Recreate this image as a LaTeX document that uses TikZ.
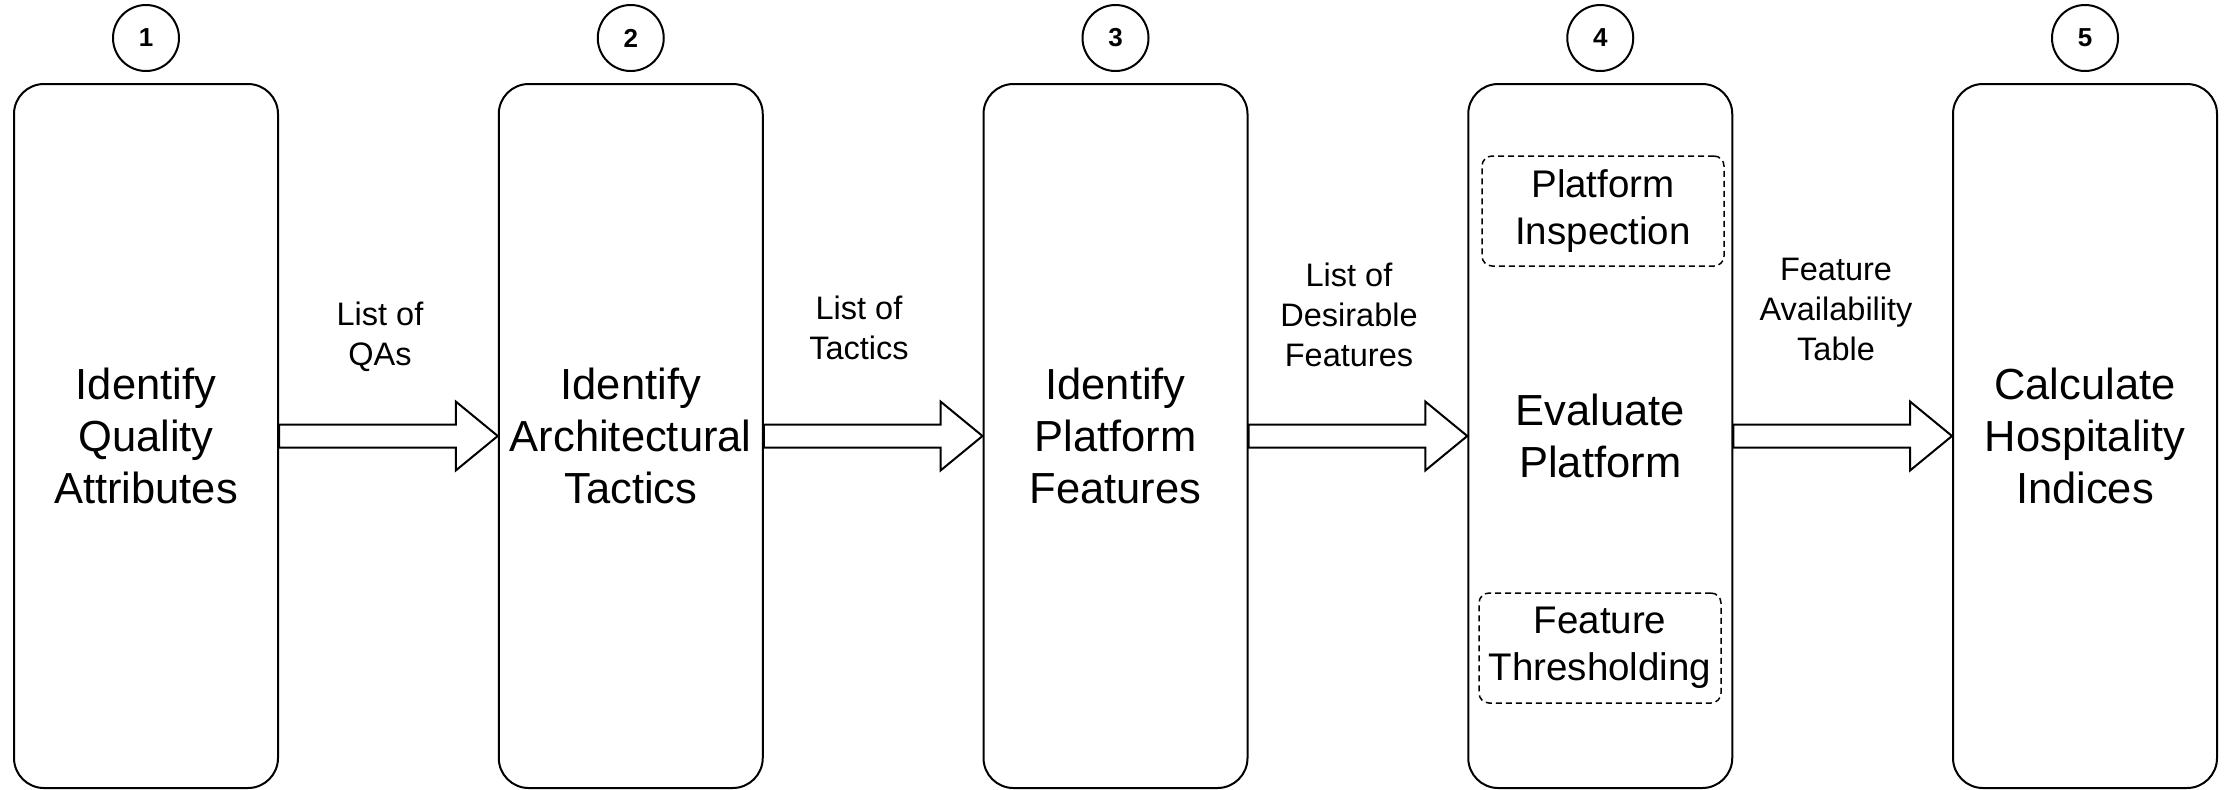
\documentclass[tikz,border=0pt]{standalone}
\usepackage{fontspec}
\setmainfont{Liberation Sans}
\usetikzlibrary{calc,positioning}
\def\blockarrow(#1)(#2){\draw[line width=1pt, fill=white] let \p1=(#1.east), \p2=(#2.west) in (\x1,\y1+5.75pt) -- (\x2-21pt,\y1+5.75pt) -- (\x2-21pt,\y1+17.25pt) -- (\x2,\y1) -- (\x2-21pt,\y1-17.25pt) -- (\x2-21pt,\y1-5.75pt) -- (\x1,\y1-5.75pt) -- cycle;}
\tikzset{
	stepbox/.style={draw, line width=1pt, rounded corners=15pt, minimum width=132pt, minimum height=352pt, align=center, font=\fontsize{21.75}{26}\selectfont},
	stepnum/.style={draw, circle, line width=1pt, minimum size=33pt, inner sep=0pt, font=\fontsize{13}{15}\selectfont\bfseries},
	flowlabel/.style={align=center, font=\fontsize{16.25}{20}\selectfont},
	subtask/.style={draw, dash pattern=on 3pt off 2pt, line width=0.75pt, rounded corners=5pt, minimum width=121pt, minimum height=55pt, align=center, font=\fontsize{19.25}{23.3}\selectfont}
}
\begin{document}
\begin{tikzpicture}[x=0.5pt, y=-0.5pt]
		%%%%% START %%%%%
		\useasboundingbox (0, 0) rectangle (2233, 789);
		
		\node[stepbox] (qa) at (146, 436) {Identify\\Quality\\Attributes};
		\node[stepbox] (tactics) at (630.75, 436) {Identify\\Architectural\\Tactics};
		\node[stepbox] (features) at (1115.5, 436) {Identify\\Platform\\Features};
		\node[stepbox] (evaluate) at (1600.25, 436) {Evaluate\\Platform};
		\node[stepbox] (indices) at (2085, 436) {Calculate\\Hospitality\\Indices};
		
		\node[stepnum, above=5.5pt of qa] (n1) {1};
		\node[stepnum, above=5.5pt of tactics] (n2) {2};
		\node[stepnum, above=5.5pt of features] (n3) {3};
		\node[stepnum, above=5.5pt of evaluate] (n4) {4};
		\node[stepnum, above=5.5pt of indices] (n5) {5};
		
		\node[subtask] (inspect) at (1603, 211) {Platform\\Inspection};
		\node[subtask] (threshold) at (1600, 648) {Feature\\Thresholding};
		
		\blockarrow(qa)(tactics)
		\blockarrow(tactics)(features)
		\blockarrow(features)(evaluate)
		\blockarrow(evaluate)(indices)
		
		\node[flowlabel] (lqa) at (380, 337) {List of\\QAs};
		\node[flowlabel] (ltactics) at (859, 328) {List of\\Tactics};
		\node[flowlabel] (lfeatures) at (1349, 315) {List of\\Desirable\\Features};
		\node[flowlabel] (ltable) at (1836, 309) {Feature\\Availability\\Table};
		
		%%%%% END %%%%%
	\end{tikzpicture}
\end{document}
